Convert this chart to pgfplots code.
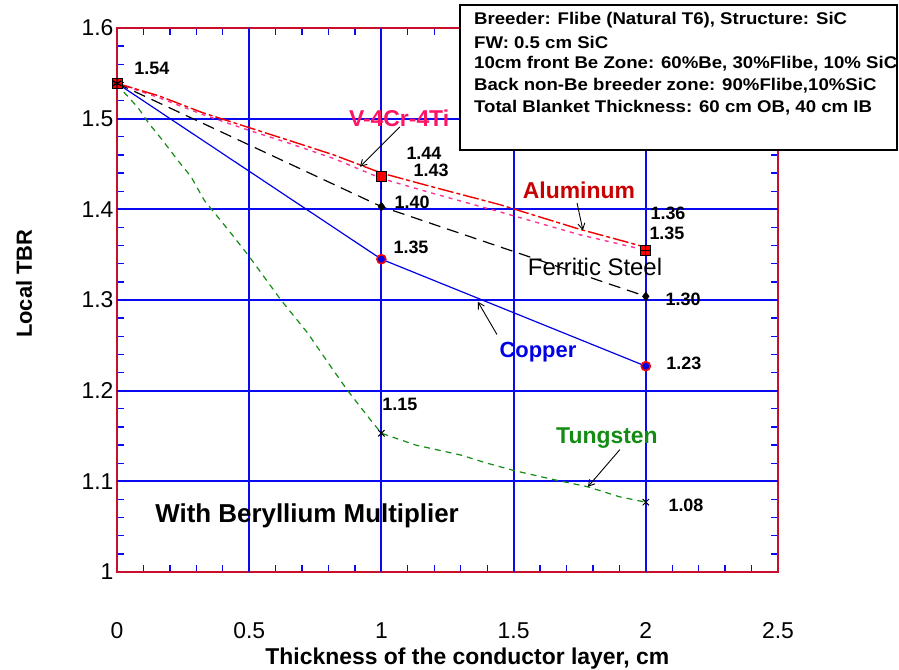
\documentclass[border=0pt]{standalone}
\usepackage{pgfplots}
\pgfplotsset{compat=1.18}
\usepackage{fontspec}
\setmainfont{Liberation Sans}
\usetikzlibrary{calc,arrows.meta}

\definecolor{axred}{RGB}{200,16,46}
\definecolor{gridblue}{RGB}{10,10,240}
\definecolor{cublue}{RGB}{0,0,230}
\definecolor{wgreen}{RGB}{20,140,20}
\definecolor{vpink}{RGB}{255,20,100}
\definecolor{alred}{RGB}{200,0,0}
\definecolor{pinkline}{RGB}{255,50,150}
\definecolor{redline}{RGB}{240,0,0}

\newcommand{\fs}[1]{\fontsize{#1}{#1}\selectfont}

\begin{document}
\begin{tikzpicture}
\begin{axis}[
 scale only axis, width=661bp, height=544bp,
 xmin=0, xmax=2.5, ymin=1, ymax=1.6,
 xtick={0,0.5,1,1.5,2,2.5}, xticklabels={0,0.5,1,1.5,2,2.5},
 ytick={1,1.1,1.2,1.3,1.4,1.5,1.6}, yticklabels={1,1.1,1.2,1.3,1.4,1.5,1.6},
 minor x tick num=4, minor y tick num=4,
 tick style={color=gridblue, line width=1.3bp},
 major tick length=8bp, minor tick length=7bp,
 tick align=inside,
 axis line style={draw=axred, line width=2.2bp},
 ticklabel style={font=\fs{23}},
 xticklabel style={yshift=-47bp},
 clip=false,
]
% grid lines
\begin{scope}[draw=gridblue, line width=1.8bp]
\draw (axis cs:0.5,1) -- (axis cs:0.5,1.6);
\draw (axis cs:1,1) -- (axis cs:1,1.6);
\draw (axis cs:1.5,1) -- (axis cs:1.5,1.6);
\draw (axis cs:2,1) -- (axis cs:2,1.6);
\draw (axis cs:0,1.1) -- (axis cs:2.5,1.1);
\draw (axis cs:0,1.2) -- (axis cs:2.5,1.2);
\draw (axis cs:0,1.3) -- (axis cs:2.5,1.3);
\draw (axis cs:0,1.4) -- (axis cs:2.5,1.4);
\draw (axis cs:0,1.5) -- (axis cs:2.5,1.5);
\end{scope}
% Tungsten
\addplot[wgreen, line width=1.2bp, dash pattern=on 6bp off 5bp] coordinates {
 (0,1.539)(0.03,1.528)(0.08,1.512)(0.12,1.495)(0.17,1.477)(0.23,1.454)(0.28,1.436)
 (0.33,1.410)(0.43,1.374)(0.50,1.348)(0.62,1.300)(0.72,1.264)(0.81,1.226)(0.87,1.201)
 (0.95,1.171)(1,1.153)(1.13,1.140)(1.30,1.129)(1.40,1.120)(1.50,1.112)(1.65,1.102)
 (1.78,1.094)(1.90,1.083)(2,1.077)};
% Copper
\addplot[cublue, line width=1.2bp] coordinates {(0,1.539)(1,1.345)(2,1.227)};
% Ferritic steel
\addplot[black, line width=1.2bp, dash pattern=on 12bp off 7bp] coordinates {(0,1.539)(1,1.403)(2,1.304)};
% Pink (lower)
\addplot[pinkline, line width=1.4bp, dash pattern=on 4bp off 5bp] coordinates {
 (0,1.539)(0.16,1.523)(0.32,1.505)(0.49,1.488)(0.64,1.474)(0.82,1.456)(1,1.434)
 (1.19,1.418)(1.45,1.397)(1.75,1.372)(1.94,1.359)(2,1.355)};
% Red (upper)
\addplot[redline, line width=1.4bp, dash pattern=on 16bp off 3bp on 4bp off 3bp] coordinates {
 (0,1.539)(0.16,1.525)(0.32,1.507)(0.49,1.491)(0.64,1.477)(0.82,1.460)(1,1.440)
 (1.19,1.425)(1.45,1.405)(1.75,1.378)(1.94,1.363)(2,1.358)};
% markers
\addplot[only marks, mark=|, mark size=7bp, mark options={draw=black, line width=1.2bp}]
 coordinates {(1,1.430)};
\addplot[only marks, mark=square*, mark size=5bp, mark options={fill=red, draw=black, line width=0.8bp}]
 coordinates {(0,1.539)(1,1.436)(2,1.355)};
\addplot[only marks, mark=+, mark size=5bp, mark options={draw=black, line width=0.8bp}]
 coordinates {(2,1.355)};
\addplot[only marks, mark=asterisk, mark size=5bp, mark options={draw=black, line width=1.2bp}]
 coordinates {(0,1.539)};
\addplot[only marks, mark=*, mark size=4.5bp, mark options={fill=cublue, draw=red, line width=1.6bp}]
 coordinates {(1,1.345)(2,1.227)};
\addplot[only marks, mark=diamond*, mark size=4.5bp, mark options={fill=black, draw=black}]
 coordinates {(1,1.403)(2,1.304)};
\addplot[only marks, mark=x, mark size=4.5bp, mark options={draw=black, line width=1bp}]
 coordinates {(1,1.153)(2,1.077)};

% value labels
\begin{scope}[every node/.style={font=\fs{18}\bfseries, inner sep=0pt}]
\node at (axis cs:0.132,1.555) {1.54};
\node at (axis cs:1.161,1.462) {1.44};
\node at (axis cs:1.188,1.443) {1.43};
\node at (axis cs:1.116,1.408) {1.40};
\node at (axis cs:1.112,1.358) {1.35};
\node at (axis cs:2.084,1.396) {1.36};
\node at (axis cs:2.080,1.373) {1.35};
\node at (axis cs:2.141,1.301) {1.30};
\node at (axis cs:2.144,1.230) {1.23};
\node at (axis cs:1.070,1.185) {1.15};
\node at (axis cs:2.152,1.074) {1.08};
\end{scope}

% series labels
\node[font=\fs{23}\bfseries, text=vpink, inner sep=0pt] at (axis cs:1.067,1.500) {V-4Cr-4Ti};
\node[font=\fs{23}\bfseries, text=alred, inner sep=0pt] at (axis cs:1.747,1.421) {Aluminum};
\node[font=\fs{24}, text=black, inner sep=0pt] at (axis cs:1.808,1.336) {Ferritic Steel};
\node[font=\fs{22}\bfseries, text=cublue, inner sep=0pt] at (axis cs:1.592,1.243) {Copper};
\node[font=\fs{23}\bfseries, text=wgreen, inner sep=0pt] at (axis cs:1.853,1.148) {Tungsten};
\node[font=\fs{26}\bfseries, text=black, inner sep=0pt] at (axis cs:0.719,1.062) {With Beryllium Multiplier};

% arrows
\begin{scope}[line width=0.9bp, -{Straight Barb[length=6bp,width=7bp]}]
\draw (axis cs:1.070,1.491) -- (axis cs:0.919,1.447);
\draw (axis cs:1.740,1.407) -- (axis cs:1.762,1.377);
\draw (axis cs:1.437,1.262) -- (axis cs:1.365,1.298);
\draw (axis cs:1.902,1.135) -- (axis cs:1.781,1.094);
\end{scope}

% axis labels
\node[font=\fs{22}\bfseries, rotate=90] at (rel axis cs:-0.1407,0.53) {Local TBR};
\node[font=\fs{23}\bfseries] at (rel axis cs:0.53,-0.16) {Thickness of the conductor layer, cm};

\coordinate (boxsw) at (axis cs:1.297,1.4655);
\coordinate (boxne) at (axis cs:2.950,1.6254);
\coordinate (t1) at (axis cs:1.350,1.6088);
\coordinate (t2) at (axis cs:1.350,1.5846);
\coordinate (t3) at (axis cs:1.350,1.5603);
\coordinate (t4) at (axis cs:1.350,1.5361);
\coordinate (t5) at (axis cs:1.350,1.5118);
\end{axis}

\draw[black, line width=1.5bp, fill=white] (boxsw) rectangle (boxne);
\begin{scope}[every node/.style={font=\fs{17}\bfseries, anchor=west, inner sep=0pt}]
\node at (t1) {\scalebox{1.1}[1]{Breeder: Flibe (Natural T6), Structure: SiC}};
\node at (t2) {\scalebox{1.1}[1]{FW: 0.5 cm SiC}};
\node at (t3) {\scalebox{1.1}[1]{10cm front Be Zone: 60\%Be, 30\%Flibe, 10\% SiC}};
\node at (t4) {\scalebox{1.1}[1]{Back non-Be breeder zone: 90\%Flibe,10\%SiC}};
\node at (t5) {\scalebox{1.1}[1]{Total Blanket Thickness: 60 cm OB, 40 cm IB}};
\end{scope}

\pgfresetboundingbox
\path ($(current axis.south west)+(-117bp,-98bp)$) rectangle ($(current axis.north east)+(121bp,28bp)$);
\end{tikzpicture}
\end{document}
